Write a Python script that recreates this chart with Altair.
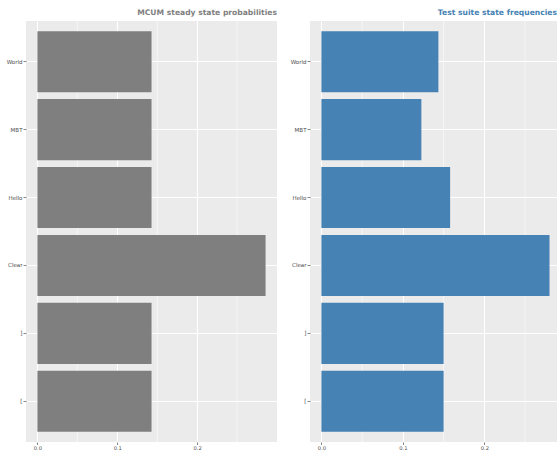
import altair as alt
import pandas as pd

states = ["World", "MBT", "Hello", "Clear", "]", "["]
mcum_prob = [0.1429, 0.1429, 0.1429, 0.2857, 0.1429, 0.1429]
test_freq = [0.1436, 0.1227, 0.1580, 0.2800, 0.1500, 0.1500]
major_ticks = [0.0, 0.1, 0.2]
minor_ticks = [0.05, 0.15, 0.25]

FONT = "DejaVu Sans"

XAXIS = alt.Axis(
    values=major_ticks, format=".1f", title=None, domain=False,
    grid=True, gridColor="white", gridWidth=1.1,
    tickColor="#333333", tickSize=2.5, tickWidth=0.6,
    labelFontSize=5.2, labelColor="#4D4D4D", labelFont=FONT,
    labelPadding=0.5,
)


def panel(values, color, title, domain, width):
    df = pd.DataFrame({"state": states, "p": values})
    xscale = alt.Scale(domain=domain, nice=False, zero=False)
    bars = alt.Chart(df).mark_bar(color=color).encode(
        x=alt.X("p:Q", scale=xscale, axis=XAXIS),
        y=alt.Y(
            "state:N",
            sort=states,
            scale=alt.Scale(paddingInner=0.1, paddingOuter=0.15),
            axis=alt.Axis(
                title=None, domain=False, grid=True, gridColor="white",
                gridWidth=1.1, bandPosition=0.5,
                tickColor="#333333", tickSize=3, tickWidth=0.6,
                labelFontSize=5.5, labelColor="#4D4D4D", labelFont=FONT,
                labelPadding=1,
            ),
        ),
    )
    grid = alt.Chart(pd.DataFrame({"p": minor_ticks})).mark_rule(
        color="white", strokeWidth=0.55
    ).encode(x=alt.X("p:Q", scale=xscale, axis=XAXIS))
    return alt.layer(grid, bars).properties(
        width=width,
        height=421,
        title=alt.TitleParams(
            text=title, anchor="end", fontSize=7.6, fontWeight="bold",
            color=color, font=FONT, offset=4,
        ),
    )


left = panel(mcum_prob, "#7F7F7F", "MCUM steady state probabilities",
             [-0.0143, 0.3], 251)
right = panel(test_freq, "#4682B4", "Test suite state frequencies",
              [-0.014, 0.2892], 247)

chart = alt.hconcat(left, right, spacing=13).properties(
    padding={"left": 6, "top": 9, "right": 0, "bottom": 0},
    background="white",
).configure_view(fill="#EBEBEB", stroke=None)

chart.save("out.html", embed_options={"renderer": "svg", "actions": False})
